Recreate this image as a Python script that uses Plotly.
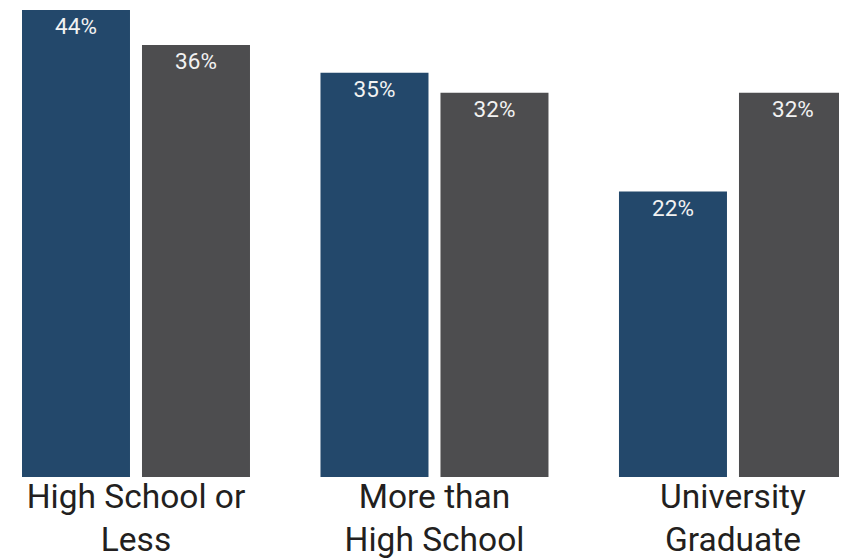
import plotly.graph_objects as go

categories = ["High School or<br>Less", "More than<br>High School", "University<br>Graduate"]
series_a_heights = [44.0, 38.1, 26.9]
series_b_heights = [40.7, 36.2, 36.2]
series_a_labels = ["44%", "35%", "22%"]
series_b_labels = ["36%", "32%", "32%"]

BLUE = "#23486b"
GRAY = "#4d4d4f"

fig = go.Figure()
for heights, labels, color in [(series_a_heights, series_a_labels, BLUE),
                               (series_b_heights, series_b_labels, GRAY)]:
    fig.add_trace(go.Bar(
        x=categories, y=heights, text=labels,
        marker=dict(color=color, line=dict(width=0)),
        textposition="inside", insidetextanchor="end", constraintext="none",
        textfont=dict(family="Roboto", size=22.5, color="#f2f2f2"),
        hoverinfo="skip",
    ))

fig.update_layout(
    width=839, height=552,
    margin=dict(l=0, r=0, t=0, b=83, autoexpand=False),
    paper_bgcolor="white", plot_bgcolor="white",
    barmode="group", bargap=0.196, bargroupgap=0.1,
    showlegend=False,
    xaxis=dict(
        type="category", range=[-0.4288, 2.382], automargin=False,
        showgrid=False, zeroline=False, showline=False, ticks="",
        ticklabelstandoff=-4,
        tickfont=dict(family="Roboto", size=33.5, color="#231f20"),
    ),
    yaxis=dict(
        range=[0, 44.19], visible=False, showgrid=False, zeroline=False,
        automargin=False,
    ),
)

fig.write_html("out.html")
